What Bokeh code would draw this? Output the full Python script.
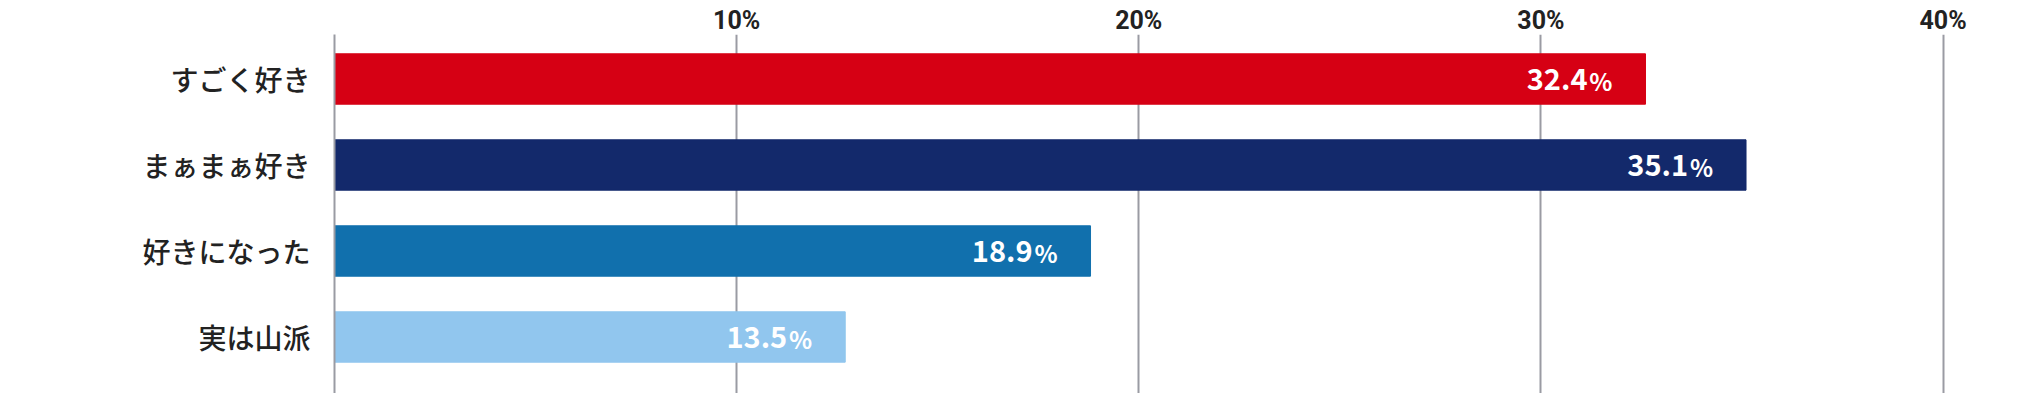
from bokeh.plotting import figure
from bokeh.models import Range1d, LinearAxis, FixedTicker, ColumnDataSource
from bokeh.core.properties import value
from bokeh.embed import file_html
from bokeh.resources import INLINE

categories = ["すごく好き", "まぁまぁ好き", "好きになった", "実は山派"]
bar_lengths = [32.6, 35.1, 18.8, 12.7]          # bar ends as drawn in the picture
value_labels = ["32.4", "35.1", "18.9", "13.5"]  # printed values
bar_colors = ["#D60014", "#13296B", "#1170AD", "#91C6EE"]
ticks = [10, 20, 30, 40]
tick_labels = {10: "10%", 20: "20%", 30: "30%", 40: "40%"}

FONT = "Noto Sans CJK JP"
W, H = 2040, 393
LEFT, RIGHT, TOP = 334, 17, 34
BAND = 86.0  # px per category

n = len(categories)
ypos = [n - 1 - i for i in range(n)]  # first category on top

y_end = (n - 0.5) + (35.5 - TOP) / BAND
y_start = y_end - (H - TOP) / BAND

p = figure(
    width=W, height=H,
    x_range=Range1d(0, 42), y_range=Range1d(y_start, y_end),
    output_backend="svg", toolbar_location=None,
    x_axis_location=None,
    min_border_left=LEFT, min_border_right=RIGHT, min_border_top=TOP, min_border_bottom=0,
)
p.outline_line_color = None
p.background_fill_color = "white"

src = ColumnDataSource(dict(y=ypos, cat=categories, val=bar_lengths, color=bar_colors,
                            lab=value_labels, pct=["%"] * n))

p.hbar(y="y", right="val", left=0, height=0.586, color="color", source=src)

p.text(x="val", y="y", text="lab", source=src, text_align="right",
       text_baseline="middle", x_offset=-58, y_offset=0,
       text_font=value(FONT), text_font_style="bold", text_font_size="29px",
       text_color="white")
p.text(x="val", y="y", text="pct", source=src, text_align="right",
       text_baseline="middle", x_offset=-33, y_offset=1,
       text_font=value(FONT), text_font_style="bold", text_font_size="24px",
       text_color="white")

# grid
p.ygrid.grid_line_color = None
p.xgrid.ticker = FixedTicker(ticks=ticks)
p.xgrid.grid_line_color = "#9A9BA3"
p.xgrid.grid_line_width = 2

# top axis with tick labels
top_axis = LinearAxis(ticker=FixedTicker(ticks=ticks), major_label_overrides=tick_labels)
top_axis.axis_line_color = None
top_axis.major_tick_line_color = None
top_axis.minor_tick_line_color = None
top_axis.major_tick_out = 0
top_axis.major_tick_in = 0
top_axis.major_label_standoff = 0
top_axis.major_label_text_font = "Roboto"
top_axis.major_label_text_font_style = "bold"
top_axis.major_label_text_font_size = "25px"
top_axis.major_label_text_color = "#222222"
p.add_layout(top_axis, "above")

# left axis with category labels
ya = p.yaxis[0]
ya.ticker = FixedTicker(ticks=ypos)
ya.major_label_overrides = {y: c for y, c in zip(ypos, categories)}
ya.axis_line_color = "#9A9BA3"
ya.axis_line_width = 2
ya.major_tick_line_color = None
ya.minor_tick_line_color = None
ya.major_tick_out = 0
ya.major_tick_in = 0
ya.major_label_standoff = 24
ya.major_label_text_font = "Noto Sans CJK JP Medium"
ya.major_label_text_font_size = "28px"
ya.major_label_text_color = "#222222"

open("out.html", "w").write(file_html(p, INLINE))
